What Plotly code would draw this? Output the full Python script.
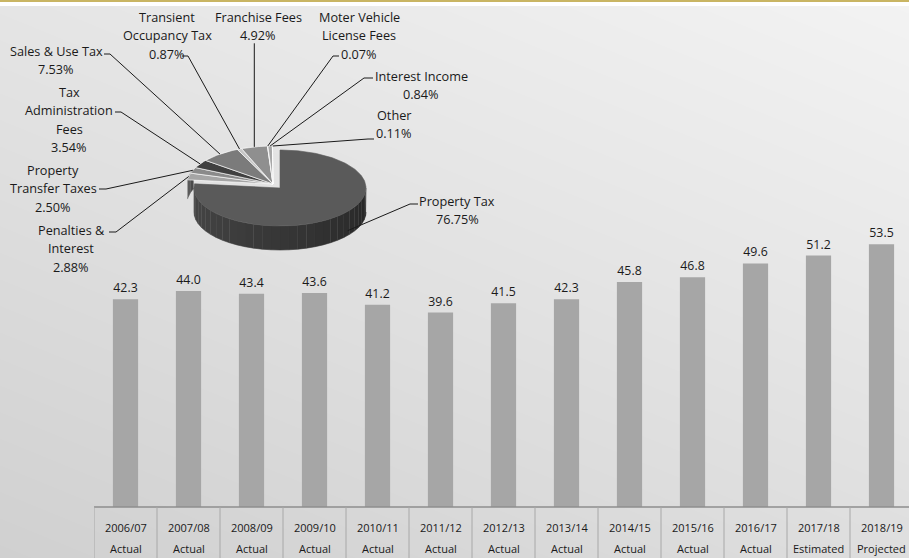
import numpy as np
import plotly.graph_objects as go

# ---------------- data ----------------
fiscal_years = ["2006/07", "2007/08", "2008/09", "2009/10", "2010/11", "2011/12", "2012/13",
                "2013/14", "2014/15", "2015/16", "2016/17", "2017/18", "2018/19"]
year_status = ["Actual"] * 11 + ["Estimated", "Projected"]
revenue_millions = [42.3, 44.0, 43.4, 43.6, 41.2, 39.6, 41.5, 42.3, 45.8, 46.8, 49.6, 51.2, 53.5]

source_names = ["Property Tax", "Penalties & Interest", "Property Transfer Taxes",
                "Tax Administration Fees", "Sales & Use Tax", "Transient Occupancy Tax",
                "Franchise Fees", "Moter Vehicle License Fees", "Interest Income", "Other"]
source_pct = [76.75, 2.88, 2.50, 3.54, 7.53, 0.87, 4.92, 0.07, 0.84, 0.11]

# ---------------- styling ----------------
W, H = 909, 558
FONT = "Open Sans"
TXT = "#1a1a1a"
BAR_COLOR = "#a6a6a6"

slice_fill = ["#5a5a5a", "#a5a5a5", "#8a8a8a", "#404040", "#7b7b7b",
              "#c6c6c6", "#8f8f8f", "#b0b0b0", "#a8a8a8", "#d0d0d0"]

# label layout: text lines (name part), centre x, first line y, leader tick
label_layout = {
    "Property Tax": (["Property Tax"], 457, 201, (418, 410, 204)),
    "Penalties & Interest": (["Penalties &", "Interest"], 71, 230, (109, 116, 232)),
    "Property Transfer Taxes": (["Property", "Transfer Taxes"], 53, 170, (99, 106, 189)),
    "Tax Administration Fees": (["Tax", "Administration", "Fees"], 69, 92, (115, 121, 112)),
    "Sales & Use Tax": (["Sales & Use Tax"], 56, 51, (104, 110, 54)),
    "Transient Occupancy Tax": (["Transient", "Occupancy Tax"], 167, 17, (182, 188, 56)),
    "Franchise Fees": (["Franchise Fees"], 258, 17, None),
    "Moter Vehicle License Fees": (["Moter Vehicle", "License Fees"], 359, 17, (339, 333, 56)),
    "Interest Income": (["Interest Income"], 421, 76, (373, 364, 78)),
    "Other": (["Other"], 394, 115, (374, 368, 139)),
}
LINE_STEP = 18.3

# 3-D pie geometry (pixel units)
A, B, DEPTH = 86, 38, 24
MAIN_C = (280, 188)
REST_C = (273, 184)

fig = go.Figure()

# soft page gradient
fig.add_trace(go.Heatmap(
    x=[0, W], y=[0, H], z=[[229, 243], [208, 222]], zmin=208, zmax=243,
    colorscale=[[0, "rgb(208,208,208)"], [1, "rgb(243,243,243)"]],
    zsmooth="best", showscale=False, hoverinfo="skip", xaxis="x", yaxis="y"))


def rim(c, t, drop=0.0):
    t = np.radians(np.asarray(t, float))
    return c[0] + A * np.sin(t), c[1] - B * np.cos(t) + drop


def arc(t0, t1, step=2.0):
    n = max(2, int(np.ceil(abs(t1 - t0) / step)) + 1)
    return np.linspace(t0, t1, n)


def poly(xs, ys, color, line_color=None, width=0.6):
    fig.add_trace(go.Scatter(
        x=list(xs), y=list(ys), mode="lines", fill="toself", fillcolor=color,
        line=dict(color=line_color or color, width=width),
        hoverinfo="skip", showlegend=False, xaxis="x", yaxis="y"))


def darker(hexcol, f):
    v = [int(hexcol[i:i + 2], 16) for i in (1, 3, 5)]
    return "rgb(%d,%d,%d)" % tuple(int(c * f) for c in v)


total = sum(source_pct)
bounds = np.concatenate([[0.0], np.cumsum(source_pct)]) / total * 360.0

# side walls of the small slices on the left rim
for i in range(1, len(source_pct)):
    lo, hi = max(bounds[i], 270.0), min(bounds[i + 1], 292.0)
    if hi > lo:
        t = arc(lo, hi, 1.0)
        x1, y1 = rim(REST_C, t)
        x2, y2 = rim(REST_C, t[::-1], DEPTH * 0.8)
        poly(np.r_[x1, x2], np.r_[y1, y2], darker(slice_fill[i], 0.55))

# top faces of the small slices
for i in range(1, len(source_pct)):
    t = arc(bounds[i], bounds[i + 1], 1.0)
    xs, ys = rim(REST_C, t)
    poly(np.r_[REST_C[0], xs, REST_C[0]], np.r_[REST_C[1], ys, REST_C[1]],
         slice_fill[i], "rgba(255,255,255,0.8)", 0.8)

# front wall of the main slice, shaded by angle
edges = arc(90, 270, 6.0)
for ta, tb in zip(edges[:-1], edges[1:]):
    t = arc(ta, tb, 1.0)
    x1, y1 = rim(MAIN_C, t)
    x2, y2 = rim(MAIN_C, t[::-1], DEPTH)
    g = int(38 + 34 * ((ta + tb) / 2 - 90) / 180)
    poly(np.r_[x1, x2], np.r_[y1, y2], "rgb(%d,%d,%d)" % (g, g, g))

# top face of the main slice
t = arc(bounds[0], bounds[1], 1.0)
xs, ys = rim(MAIN_C, t)
poly(np.r_[MAIN_C[0], xs, MAIN_C[0]], np.r_[MAIN_C[1], ys, MAIN_C[1]], slice_fill[0])

# labels and leader lines
annotations = []
shapes = []
for i, name in enumerate(source_names):
    lines, cx, y0, tick = label_layout[name]
    lines = lines + ["%.2f%%" % source_pct[i]]
    for k, s in enumerate(lines):
        annotations.append(dict(x=cx, y=y0 + k * LINE_STEP, xref="x", yref="y", text=s,
                                showarrow=False, xanchor="center", yanchor="middle",
                                font=dict(family=FONT, size=12.7, color=TXT)))
    mid = (bounds[i] + bounds[i + 1]) / 2
    if i == 0:
        px, py = rim(MAIN_C, mid - 10, DEPTH * 0.8)
    else:
        px, py = rim(REST_C, mid)
    if tick is None:
        path = "M %.1f %.1f L %.1f %.1f" % (px, y0 + LINE_STEP + 8, px, py)
    else:
        path = "M %.1f %.1f L %.1f %.1f L %.1f %.1f" % (tick[0], tick[2], tick[1], tick[2], px, py)
    shapes.append(dict(type="path", path=path, xref="x", yref="y",
                       line=dict(color=TXT, width=1)))

# bars
fig.add_trace(go.Bar(
    x=fiscal_years, y=revenue_millions, width=0.4,
    marker=dict(color=BAR_COLOR, line=dict(width=0)),
    text=["%.1f" % v for v in revenue_millions], textposition="outside",
    textfont=dict(family=FONT, size=12.3, color=TXT), cliponaxis=False,
    hoverinfo="skip", xaxis="x2", yaxis="y2"))

# table under the bars
TABLE_TOP = 507
py = lambda p: 1 - p / H
shapes.append(dict(type="line", xref="paper", yref="paper", x0=94 / W, x1=1,
                   y0=py(TABLE_TOP), y1=py(TABLE_TOP), line=dict(color="#8e8e8e", width=1.5)))
for k in range(len(fiscal_years) + 1):
    shapes.append(dict(type="line", xref="x2", yref="paper", x0=k - 0.5, x1=k - 0.5,
                       y0=py(TABLE_TOP), y1=0, line=dict(color="#a8a8a8", width=1)))
for yr, st in zip(fiscal_years, year_status):
    annotations.append(dict(x=yr, y=py(527), xref="x2", yref="paper", text=yr, showarrow=False,
                            yanchor="middle", font=dict(family=FONT, size=11, color=TXT)))
    annotations.append(dict(x=yr, y=py(548), xref="x2", yref="paper", text=st, showarrow=False,
                            yanchor="middle", font=dict(family=FONT, size=11, color=TXT)))

# top rule
shapes.append(dict(type="rect", xref="paper", yref="paper", x0=0, x1=1, y0=py(6), y1=py(2),
                   fillcolor="white", line=dict(width=0)))
shapes.append(dict(type="rect", xref="paper", yref="paper", x0=0, x1=1, y0=py(2), y1=1,
                   fillcolor="#c9b563", line=dict(width=0)))

PX_PER_UNIT = 4.911
fig.update_layout(
    width=W, height=H, margin=dict(l=0, r=0, t=0, b=0),
    paper_bgcolor="#ececec", plot_bgcolor="rgba(0,0,0,0)", showlegend=False,
    xaxis=dict(domain=[0, 1], range=[0, W], visible=False, fixedrange=True),
    yaxis=dict(domain=[0, 1], range=[H, 0], visible=False, fixedrange=True),
    xaxis2=dict(domain=[94 / W, 1], range=[-0.5, -0.5 + (W - 94) / 63.0], anchor="y2",
                visible=False, fixedrange=True),
    yaxis2=dict(domain=[(H - TABLE_TOP) / H, 1 - 10 / H],
                range=[0, (TABLE_TOP - 10) / PX_PER_UNIT], anchor="x2",
                visible=False, fixedrange=True),
    annotations=annotations, shapes=shapes,
)

fig.write_html("out.html")
